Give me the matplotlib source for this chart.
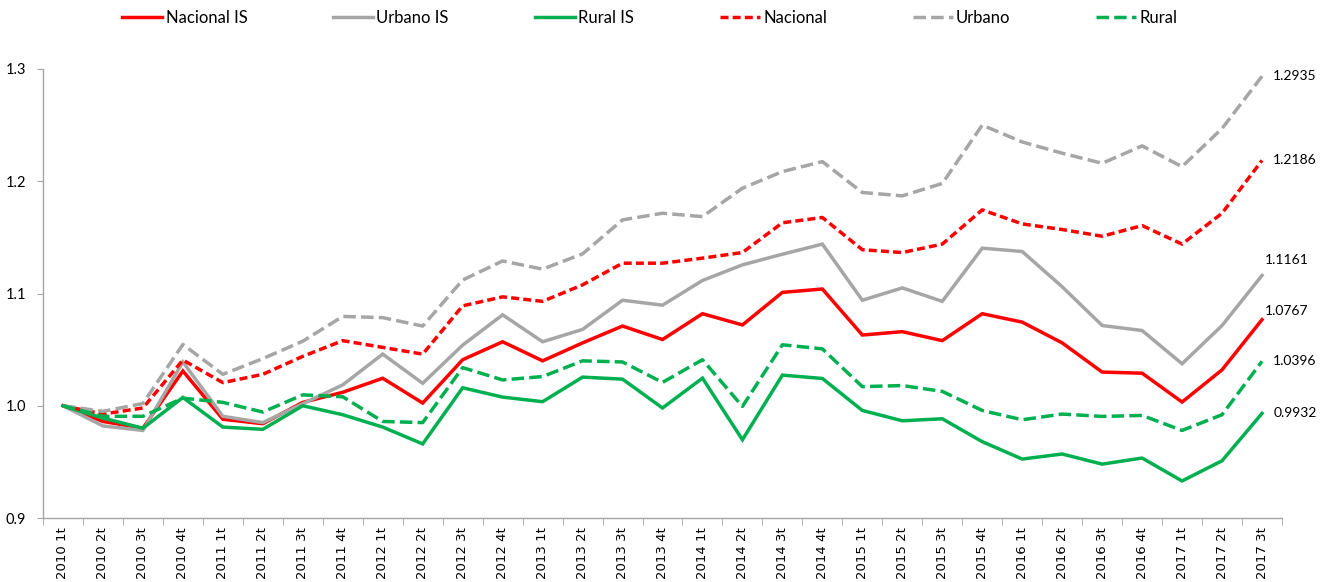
import matplotlib
matplotlib.use("Agg")
import matplotlib.pyplot as plt
import numpy as np

periods = [f"{y} {q}t" for y in range(2010, 2018) for q in range(1, 5)][:31]

nacional_is = [1.0, 0.986, 0.980, 1.031, 0.988, 0.984, 1.003, 1.012, 1.0245, 1.0024, 1.041,
               1.057, 1.040, 1.056, 1.071, 1.059, 1.082, 1.072, 1.101, 1.104, 1.063,
               1.066, 1.058, 1.082, 1.0745, 1.056, 1.030, 1.029, 1.0033, 1.032, 1.0767]
urbano_is = [1.0, 0.982, 0.978, 1.039, 0.9906, 0.985, 1.0018, 1.0186, 1.046, 1.020, 1.054,
             1.081, 1.057, 1.068, 1.094, 1.0896, 1.1116, 1.1255, 1.135, 1.144, 1.094,
             1.105, 1.093, 1.1404, 1.1374, 1.106, 1.0715, 1.067, 1.0374, 1.0715, 1.1161]
rural_is = [1.0, 0.989, 0.980, 1.0074, 0.981, 0.979, 1.0, 0.992, 0.981, 0.966, 1.016,
            1.0077, 1.0036, 1.0255, 1.0237, 0.998, 1.0246, 0.9697, 1.0273, 1.0243, 0.9958,
            0.9866, 0.9884, 0.968, 0.9525, 0.957, 0.948, 0.9534, 0.933, 0.951, 0.9932]
nacional = [1.0, 0.9926, 0.998, 1.0407, 1.0206, 1.028, 1.044, 1.058, 1.052, 1.046, 1.089,
            1.097, 1.093, 1.1077, 1.127, 1.127, 1.1315, 1.1365, 1.163, 1.1677, 1.139,
            1.1365, 1.144, 1.1745, 1.162, 1.157, 1.151, 1.1605, 1.144, 1.1715, 1.2186]
urbano = [1.0, 0.995, 1.002, 1.0546, 1.028, 1.042, 1.0575, 1.0796, 1.0785, 1.071, 1.112,
          1.129, 1.1217, 1.1353, 1.1656, 1.1715, 1.1685, 1.1938, 1.2086, 1.2175, 1.190,
          1.187, 1.198, 1.250, 1.235, 1.225, 1.216, 1.2315, 1.213, 1.247, 1.2935]
rural = [1.0, 0.9906, 0.9906, 1.0068, 1.003, 0.9944, 1.0097, 1.008, 0.986, 0.985, 1.034,
         1.023, 1.026, 1.040, 1.039, 1.0208, 1.041, 0.9994, 1.0543, 1.0507, 1.017,
         1.018, 1.0128, 0.9958, 0.9875, 0.9926, 0.9905, 0.9914, 0.978, 0.992, 1.0396]

series_names = ["Nacional IS", "Urbano IS", "Rural IS", "Nacional", "Urbano", "Rural"]
end_labels = ["1.0767", "1.1161", "0.9932", "1.2186", "1.2935", "1.0396"]

RED = "#ff0000"
GREY = "#a6a6a6"
GREEN = "#00b050"

fig = plt.figure(figsize=(13.23, 5.82), dpi=100)
ax = fig.add_axes([43/1323, 64/582, (1282-43)/1323, (518-69)/582])

x = np.arange(len(periods))
data = [nacional_is, urbano_is, rural_is, nacional, urbano, rural]
colors = [RED, GREY, GREEN, RED, GREY, GREEN]
styles = ["-", "-", "-", (0, (2.3, 1.2)), (0, (3.6, 1.5)), (0, (3.6, 1.5))]
lw = 2.5
for d, c, s, n in zip(data, colors, styles, series_names):
    ax.plot(x, d, color=c, linestyle=s, linewidth=lw, label=n,
            solid_joinstyle="miter", dash_capstyle="butt")

offsets = {"1.0767": (-6, 6), "1.1161": (-6, 11), "1.2186": (0, 0),
           "1.2935": (0, 0), "1.0396": (0, 0), "0.9932": (0, 0)}
for d, lab in zip(data, end_labels):
    dx, dy = offsets[lab]
    ax.annotate(lab, xy=(x[-1], d[-1]), xytext=(8 + dx, dy), textcoords="offset points",
                ha="left", va="center", fontsize=10, family="Lato", color="#000000")

ax.set_xlim(-0.5, len(periods) - 0.5)
ax.set_ylim(0.9, 1.3)
ax.set_yticks([0.9, 1.0, 1.1, 1.2, 1.3])
ax.set_yticklabels(["0.9", "1.0", "1.1", "1.2", "1.3"], family="Lato", fontsize=10.5)
ax.set_xticks(x)
ax.set_xticklabels(periods, rotation=90, fontsize=9.5, family="DejaVu Sans")
ax.set_xticks(np.arange(-0.5, len(periods), 1), minor=True)
ax.tick_params(axis="x", which="major", length=0, pad=6.5)
ax.tick_params(axis="x", which="minor", length=5, color=GREY, direction="out")
ax.tick_params(axis="y", which="major", length=4, color=GREY, direction="out", pad=8)

for sp in ["top", "right"]:
    ax.spines[sp].set_visible(False)
for sp in ["left", "bottom"]:
    ax.spines[sp].set_color(GREY)
    ax.spines[sp].set_linewidth(1.0)

leg = fig.legend(loc="center", bbox_to_anchor=(650/1323, 1 - 18/582), ncol=6,
                 frameon=False, handlelength=2.4, columnspacing=5.15, handletextpad=0.2,
                 prop={"family": "Lato", "size": 12})

fig.savefig("out.png", dpi=100)
